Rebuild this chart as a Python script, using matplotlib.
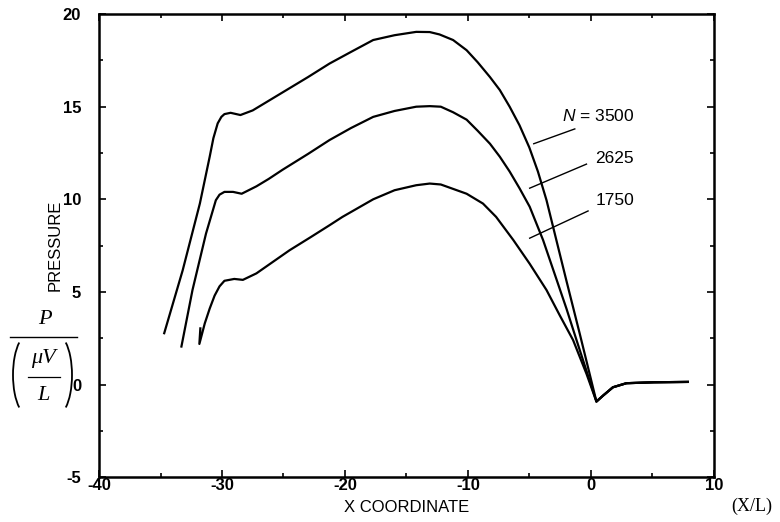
import numpy as np
import matplotlib
matplotlib.use('Agg')
import matplotlib.pyplot as plt
from matplotlib.ticker import MultipleLocator
from matplotlib.patches import Arc
from matplotlib.lines import Line2D

# values
x_3500 = [-34.7, -33.2, -31.8, -31.0, -30.7, -30.35, -30.05, -29.8, -29.3, -28.5,
          -27.5, -26.5, -25.0, -23.0, -21.25, -19.5, -17.7, -15.96, -14.2, -13.1,
          -12.3, -11.2, -10.1, -9.2, -8.2, -7.4, -6.6, -5.8, -5.0, -4.3, -3.6,
          -2.8, -1.98, -0.9, 0.46, 1.0, 1.8, 2.9, 5.1, 7.9]
p_3500 = [2.77, 6.16, 9.77, 12.3, 13.3, 14.1, 14.45, 14.6, 14.67, 14.55,
          14.8, 15.2, 15.8, 16.6, 17.33, 17.96, 18.6, 18.86, 19.04, 19.03,
          18.9, 18.6, 18.05, 17.4, 16.6, 15.9, 15.0, 14.0, 12.8, 11.5, 9.95,
          7.8, 5.6, 2.75, -0.92, -0.6, -0.15, 0.07, 0.12, 0.14]

x_2625 = [-33.3, -32.4, -31.3, -30.5, -30.2, -29.8, -29.1, -28.4, -27.2, -26.2,
          -25.06, -23.0, -21.25, -19.5, -17.7, -15.96, -14.2, -13.1, -12.2, -11.2,
          -10.1, -9.2, -8.2, -7.4, -6.6, -5.8, -4.97, -3.88, -2.8, -1.98, -1.16,
          0.46, 1.0, 1.8, 2.9, 5.1, 7.9]
p_2625 = [2.05, 5.1, 8.15, 9.95, 10.25, 10.4, 10.4, 10.3, 10.7, 11.1,
          11.6, 12.45, 13.2, 13.85, 14.45, 14.77, 15.0, 15.03, 15.0, 14.7,
          14.3, 13.7, 13.0, 12.3, 11.5, 10.6, 9.6, 7.8, 5.7, 4.1, 2.4,
          -0.92, -0.6, -0.15, 0.07, 0.12, 0.14]

x_1750 = [-31.76, -31.84, -31.4, -31.0, -30.6, -30.2, -29.8, -29.0, -28.3, -27.2,
          -24.5, -22.8, -21.25, -20.2, -17.7, -15.96, -14.2, -13.1, -12.2, -10.1,
          -8.77, -7.7, -6.3, -4.97, -3.6, -2.52, -1.44, -0.35,
          0.46, 1.0, 1.8, 2.9, 5.1, 7.9]
p_1750 = [3.03, 2.19, 3.3, 4.1, 4.8, 5.3, 5.6, 5.7, 5.65, 6.0,
          7.25, 7.95, 8.6, 9.05, 10.0, 10.49, 10.76, 10.85, 10.8, 10.3,
          9.77, 9.05, 7.8, 6.52, 5.1, 3.73, 2.4, 0.58,
          -0.92, -0.6, -0.15, 0.07, 0.12, 0.14]

# label text, leader line (start, end) and text anchor
labels = ['$N$ = 3500', '2625', '1750']
leader_x = [(-4.64, -1.3), (-4.97, -0.35), (-4.97, -0.22)]
leader_y = [(13.0, 13.8), (10.6, 11.9), (7.9, 9.37)]
label_pos = [(-2.3, 14.5), (0.33, 12.2), (0.4, 9.95)]

plt.rcParams['font.family'] = ['Liberation Sans', 'DejaVu Sans']
plt.rcParams['mathtext.fontset'] = 'custom'
plt.rcParams['mathtext.it'] = 'Liberation Sans:italic'
plt.rcParams['mathtext.rm'] = 'Liberation Sans'
plt.rcParams['axes.unicode_minus'] = False

W, H = 780, 522
fig = plt.figure(figsize=(W / 100, H / 100), dpi=100)
ax = fig.add_axes([0.127, 0.086, 0.788, 0.887])

for xs, ps in [(x_3500, p_3500), (x_2625, p_2625), (x_1750, p_1750)]:
    ax.plot(xs, ps, color='black', lw=1.6)

for lx, ly, txt, pos in zip(leader_x, leader_y, labels, label_pos):
    ax.plot(lx, ly, color='black', lw=1.0)
    ax.text(pos[0], pos[1], txt, fontsize=12.5, ha='left', va='center')

ax.set_xlim(-40, 10)
ax.set_ylim(-5, 20)
ax.xaxis.set_major_locator(MultipleLocator(10))
ax.xaxis.set_minor_locator(MultipleLocator(5))
ax.yaxis.set_major_locator(MultipleLocator(5))
ax.yaxis.set_minor_locator(MultipleLocator(2.5))
ax.tick_params(which='both', direction='in', top=True, right=True, width=1.2)
ax.tick_params(which='major', length=5)
ax.tick_params(which='minor', length=3)
ax.tick_params(axis='x', pad=1, labelsize=12)
ax.tick_params(axis='y', pad=13, labelsize=12)
for lab in ax.get_xticklabels() + ax.get_yticklabels():
    lab.set_fontweight('bold')
for s in ax.spines.values():
    s.set_linewidth(1.8)

ax.set_xlabel('X COORDINATE', fontsize=12, labelpad=5)
ax.set_ylabel('PRESSURE', fontsize=12, labelpad=0)

# dimensionless pressure  P / (mu V / L), placed in pixel units of the figure
def fx(px):
    return px / W

def fy(py):
    return 1 - py / H

serif = dict(family='Liberation Serif', style='italic', fontsize=16,
             ha='center', va='center')
fig.text(fx(45), fy(319), 'P', **serif)
fig.text(fx(43), fy(358), '\u03bcV', **serif)
fig.text(fx(43), fy(396), 'L', **serif)
fig.add_artist(Line2D([fx(10), fx(77)], [fy(337), fy(337)], color='black',
                      lw=1.0, transform=fig.transFigure))
fig.add_artist(Line2D([fx(28), fx(60)], [fy(377), fy(377)], color='black',
                      lw=0.9, transform=fig.transFigure))
# parentheses drawn as elliptical arcs, sizes in inches (1 px = 0.01 in)
fig.add_artist(Arc((0.28, (H - 375) / 100), 0.30, 0.80, theta1=105.1, theta2=254.9,
                   color='black', lw=1.3, transform=fig.dpi_scale_trans))
fig.add_artist(Arc((0.57, (H - 375) / 100), 0.30, 0.80, theta1=-74.9, theta2=74.9,
                   color='black', lw=1.3, transform=fig.dpi_scale_trans))
fig.text(fx(752), fy(506), '(X/L)', family='Liberation Serif',
         fontsize=13, ha='center', va='center')

fig.savefig('out.png', dpi=100)
